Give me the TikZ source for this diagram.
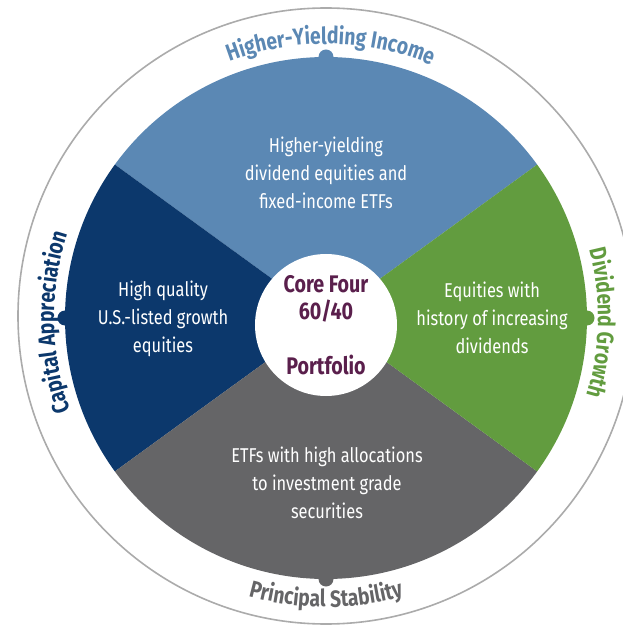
\documentclass[tikz,border=0pt]{standalone}
\usepackage{fontspec}
\setmainfont{Fira Sans}[FakeStretch=0.82]
\usepackage{tikz}
\usetikzlibrary{decorations.text, positioning}

\definecolor{yieldblue}{HTML}{5B88B4}
\definecolor{growthnavy}{HTML}{0C386C}
\definecolor{divgreen}{HTML}{629C3F}
\definecolor{stablegray}{HTML}{656567}
\definecolor{ringgray}{HTML}{ABABAB}
\definecolor{coreplum}{HTML}{5A1F4C}

\newcommand{\rimfont}{\fontsize{23.5}{26}\selectfont\bfseries}

\begin{document}
\begin{tikzpicture}[x=1pt, y=1pt,
            blurb/.style={text=white, align=center, font=\fontsize{20}{28}\selectfont},
            core/.style={circle, fill=white, minimum size=142pt, inner sep=0pt,
                         text=coreplum, align=center, font=\fontsize{24}{27}\selectfont\bfseries},
            nub/.style={circle, inner sep=0pt, minimum size=15pt},
            rimtext/.style={decorate, decoration={text along path, text align=center}}
        ]
        \useasboundingbox (-326,-311) rectangle (297,318);

        % Outer ring
        \draw[ringgray, line width=1.6pt] (0,2) circle[radius=308];

        % Sectors
        \fill[yieldblue] (0,0) -- (36:261) arc[start angle=36, end angle=144, radius=261] -- cycle;
        \fill[growthnavy] (0,0) -- (144:261) arc[start angle=144, end angle=216, radius=261] -- cycle;
        \fill[stablegray] (0,0) -- (216:261) arc[start angle=216, end angle=324, radius=261] -- cycle;
        \fill[divgreen] (0,0) -- (-36:261) arc[start angle=-36, end angle=36, radius=261] -- cycle;

        % Nubs on the rim
        \node[nub, fill=yieldblue] (nubtop) at (90:261) {};
        \node[nub, fill=growthnavy] (nubleft) at (180:261) {};
        \node[nub, fill=stablegray] (nubbottom) at (270:261) {};
        \node[nub, fill=divgreen] (nubright) at (0:261) {};

        % Centre
        \node[core] (centre) at (0,-7) {Core Four\\60/40\\[28pt]Portfolio};

        % Sector texts
        \node[blurb] (yieldtext) at (0,145) {Higher-yielding\\dividend equities and\\fixed-income ETFs};
        \node[blurb] (growthtext) at (-163,-1) {High quality\\U.S.-listed growth\\equities};
        \node[blurb] (divtext) at (166,0) {Equities with\\history of increasing\\dividends};
        \node[blurb] (stabletext) at (1,-165) {ETFs with high allocations\\to investment grade\\securities};

        % Rim labels
        \path[rimtext, decoration={text color=yieldblue, text={|\rimfont|Higher-Yielding Income}}]
            (132:274) arc[start angle=132, end angle=46, radius=274];
        \path[rimtext, decoration={text color=growthnavy, text={|\rimfont|Capital Appreciation}}]
            (222:272) arc[start angle=222, end angle=140, radius=272];
        \path[rimtext, decoration={text color=divgreen, text={|\rimfont|Dividend Growth}}]
            (42:272) arc[start angle=42, end angle=-44, radius=272];
        \path[rimtext, decoration={text color=stablegray, text={|\rimfont|Principal Stability}}]
            (228:289) arc[start angle=228, end angle=312, radius=289];

    \end{tikzpicture}
\end{document}
